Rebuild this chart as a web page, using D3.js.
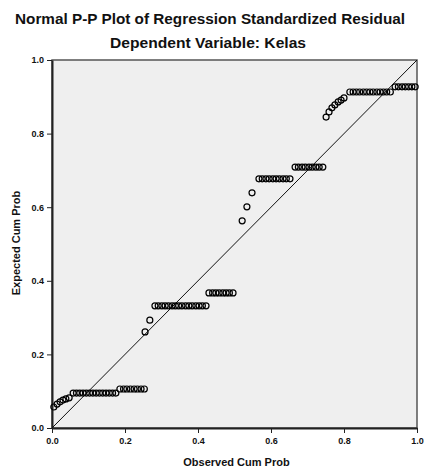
<!DOCTYPE html>
<html>
<head>
<meta charset="utf-8">
<script src="https://cdn.jsdelivr.net/npm/d3@7"></script>
<style>
  body { margin: 0; background: #fff; }
  text { font-family: "Liberation Sans", Arial, sans-serif; fill: #111; }
</style>
</head>
<body>
<div id="chart"></div>
<script>
// observed cum prob (x) vs expected cum prob (y)
var observed = [
  0.005, 0.014, 0.022, 0.030, 0.038, 0.047,
  0.058, 0.067, 0.076, 0.085, 0.094, 0.103, 0.112, 0.121, 0.130, 0.139, 0.148, 0.157, 0.166, 0.175,
  0.186, 0.196, 0.205, 0.215, 0.225, 0.234, 0.244, 0.253,
  0.255, 0.268,
  0.282, 0.291, 0.301, 0.310, 0.319, 0.329, 0.338, 0.347, 0.356, 0.366, 0.375, 0.384, 0.394, 0.403, 0.412, 0.422,
  0.430, 0.440, 0.449, 0.458, 0.468, 0.477, 0.486, 0.496,
  0.521, 0.534, 0.548,
  0.567, 0.576, 0.586, 0.595, 0.605, 0.614, 0.623, 0.633, 0.642, 0.652,
  0.666, 0.675, 0.685, 0.694, 0.704, 0.713, 0.723, 0.732, 0.742,
  0.751, 0.759, 0.767, 0.775, 0.784, 0.792, 0.800,
  0.816, 0.825, 0.834, 0.843, 0.853, 0.862, 0.871, 0.880, 0.890, 0.899, 0.908, 0.917, 0.927,
  0.940, 0.949, 0.959, 0.968, 0.977, 0.986, 0.995
];
var expected = [
  0.057, 0.065, 0.071, 0.076, 0.079, 0.082,
  0.095, 0.095, 0.095, 0.095, 0.095, 0.095, 0.095, 0.095, 0.095, 0.095, 0.095, 0.095, 0.095, 0.095,
  0.106, 0.106, 0.106, 0.106, 0.106, 0.106, 0.106, 0.106,
  0.261, 0.293,
  0.332, 0.332, 0.332, 0.332, 0.332, 0.332, 0.332, 0.332, 0.332, 0.332, 0.332, 0.332, 0.332, 0.332, 0.332, 0.332,
  0.367, 0.367, 0.367, 0.367, 0.367, 0.367, 0.367, 0.367,
  0.563, 0.601, 0.639,
  0.677, 0.677, 0.677, 0.677, 0.677, 0.677, 0.677, 0.677, 0.677, 0.677,
  0.709, 0.709, 0.709, 0.709, 0.709, 0.709, 0.709, 0.709, 0.709,
  0.845, 0.859, 0.870, 0.878, 0.886, 0.891, 0.897,
  0.913, 0.913, 0.913, 0.913, 0.913, 0.913, 0.913, 0.913, 0.913, 0.913, 0.913, 0.913, 0.913,
  0.927, 0.927, 0.927, 0.927, 0.927, 0.927, 0.927
];
var tickValues = [0, 0.2, 0.4, 0.6, 0.8, 1.0];
var tickLabels = ["0.0", "0.2", "0.4", "0.6", "0.8", "1.0"];

var title = "Normal P-P Plot of Regression Standardized Residual";
var subtitle = "Dependent Variable: Kelas";

var margin = {top: 60, right: 8, bottom: 44, left: 52};
var width = 425 - margin.left - margin.right, height = 472 - margin.top - margin.bottom;

var root = d3.select("#chart")
    .append("svg")
    .attr("width", 425)
    .attr("height", 472);

root.append("text")
    .attr("x", 210).attr("y", 24)
    .attr("text-anchor", "middle")
    .attr("textLength", 390).attr("lengthAdjust", "spacingAndGlyphs")
    .style("font-size", "14px").style("font-weight", "bold")
    .text(title);
root.append("text")
    .attr("x", 208).attr("y", 48)
    .attr("text-anchor", "middle")
    .attr("textLength", 196).attr("lengthAdjust", "spacingAndGlyphs")
    .style("font-size", "14px").style("font-weight", "bold")
    .text(subtitle);

var svg = root.append("g")
    .attr("transform", "translate(" + margin.left + "," + margin.top + ")");

var x = d3.scaleLinear().domain([0, 1]).range([0, width]);
var y = d3.scaleLinear().domain([0, 1]).range([height, 0]);

// plot background
svg.append("rect")
    .attr("width", width).attr("height", height)
    .attr("fill", "#efefef")
    .attr("stroke", "#555").attr("stroke-width", 1.5);

// axes
var fmt = function(d, i) { return tickLabels[i]; };
var xAxis = svg.append("g")
    .attr("transform", "translate(0," + height + ")")
    .call(d3.axisBottom(x).tickValues(tickValues).tickFormat(fmt).tickSize(5).tickPadding(5).tickSizeOuter(0));
var yAxis = svg.append("g")
    .call(d3.axisLeft(y).tickValues(tickValues).tickFormat(fmt).tickSize(5).tickSizeOuter(0));

[xAxis, yAxis].forEach(function(a) {
    a.select(".domain").attr("stroke", "#222").attr("stroke-width", 2);
    a.selectAll(".tick line").attr("stroke", "#222");
    a.selectAll("text")
        .style("font-size", "9px").style("font-weight", "bold")
        .style("font-family", "Liberation Sans, Arial, sans-serif")
        .attr("fill", "#333");
});

// reference line
svg.append("line")
    .attr("x1", x(0)).attr("y1", y(0))
    .attr("x2", x(1)).attr("y2", y(1))
    .attr("stroke", "#111").attr("stroke-width", 1);

// points
svg.append("g")
    .selectAll("circle")
    .data(observed)
    .enter().append("circle")
    .attr("cx", function(d) { return x(d); })
    .attr("cy", function(d, i) { return y(expected[i]); })
    .attr("r", 3)
    .attr("fill", "none")
    .attr("stroke", "#000")
    .attr("stroke-width", 1.2);

// axis titles
svg.append("text")
    .attr("x", width / 2 + 2).attr("y", height + 38)
    .attr("text-anchor", "middle")
    .style("font-size", "11px").style("font-weight", "bold")
    .text("Observed Cum Prob");
svg.append("text")
    .attr("transform", "translate(-32," + (height / 2 - 1) + ") rotate(-90)")
    .attr("text-anchor", "middle")
    .style("font-size", "11px").style("font-weight", "bold")
    .text("Expected Cum Prob");
</script>
</body>
</html>
